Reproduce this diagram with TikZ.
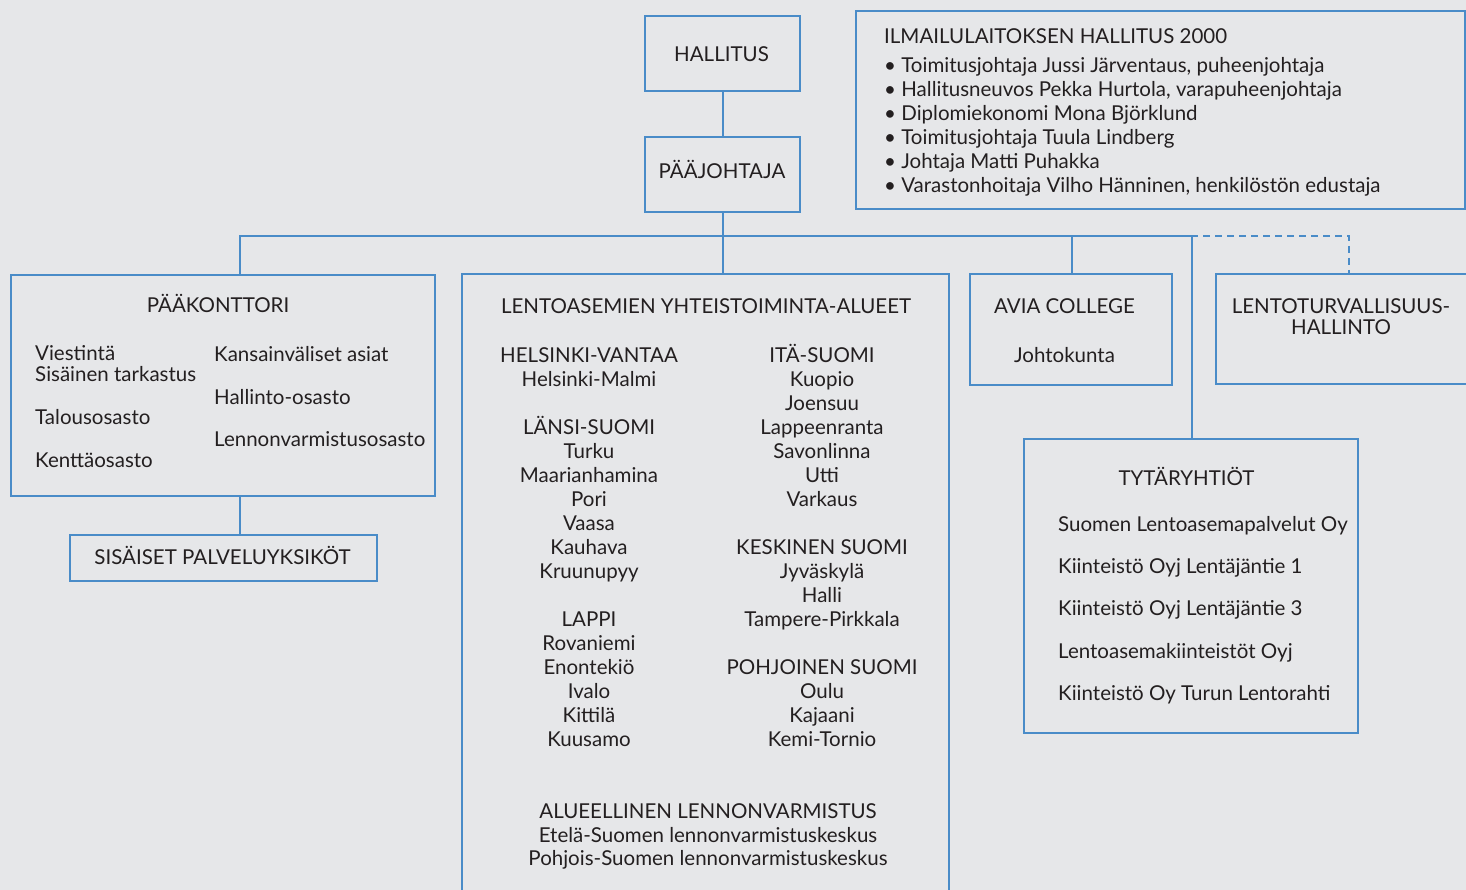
\documentclass[tikz,border=0pt]{standalone}
\usepackage{fontspec}
\setmainfont{Lato}
\definecolor{bg}{HTML}{E6E7E9}
\definecolor{frame}{HTML}{4A8CC8}
\definecolor{ink}{HTML}{231F20}
\newcommand\orgfont{\fontsize{20.5}{24}\selectfont}
\begin{document}
\begin{tikzpicture}[x=1pt,y=-1pt,
  every node/.style={text=ink, font=\orgfont},
  box/.style={draw=frame, line width=2.4pt, fill=bg, inner sep=0pt, anchor=north west},
  link/.style={draw=frame, line width=2.4pt},
  dlink/.style={link, dash pattern=on 7pt off 5pt},
  txt/.style={inner sep=0pt, anchor=base},
  ltxt/.style={inner sep=0pt, anchor=base west}]
\fill[bg] (0,0) rectangle (1466,890);
\useasboundingbox (0,0) rectangle (1466,890);
\clip (0,0) rectangle (1466,890);

% boxes
\node[box, minimum width=155pt, minimum height=75pt] (hallitus) at (644,15) {};
\node[box, minimum width=155pt, minimum height=75pt] (paajoh) at (644,136) {};
\node[box, minimum width=609pt, minimum height=198pt] (ilmailu) at (855,10) {};
\node[box, minimum width=424pt, minimum height=221pt] (paak) at (10,274) {};
\node[box, minimum width=307pt, minimum height=46pt] (sisais) at (69,534) {};
\node[box, minimum width=487pt, minimum height=660pt] (lento) at (461,273) {};
\node[box, minimum width=202pt, minimum height=111pt] (avia) at (969,273) {};
\node[box, minimum width=320pt, minimum height=110pt] (turva) at (1215,273) {};
\node[box, minimum width=334pt, minimum height=294pt] (tytar) at (1023,438) {};

% connectors
\coordinate (busL) at (240,236);
\coordinate (busR) at (1192,236);
\coordinate (aviaTap) at (1072,236);
\coordinate (dashS) at (1143,236);
\coordinate (dashC) at (1349,236);
\draw[link] (hallitus.south) -- (paajoh.north);
\draw[link] (paajoh.south) -- (paajoh.south |- lento.north);
\draw[link] (busL |- paak.north) -- (busL) -- (busR) -- (busR |- tytar.north);
\draw[link] (aviaTap) -- (aviaTap |- avia.north);
\draw[dlink] (dashS) -- (dashC) -- (dashC |- turva.north);
\draw[link] (busL |- paak.south) -- (busL |- sisais.north);

% texts
\node[txt] (thall) at (721.5,62) {HALLITUS};
\node[txt] (tpaaj) at (722,178.5) {PÄÄJOHTAJA};

\node[ltxt] (ilm0) at (884,44) {ILMAILULAITOKSEN HALLITUS 2000};
\node[ltxt] (ilm1) at (884,72.5) {\textbullet\ Toimitusjohtaja Jussi Järventaus, puheenjohtaja};
\node[ltxt] (ilm2) at (884,96.5) {\textbullet\ Hallitusneuvos Pekka Hurtola, varapuheenjohtaja};
\node[ltxt] (ilm3) at (884,120.5) {\textbullet\ Diplomiekonomi Mona Björklund};
\node[ltxt] (ilm4) at (884,144.5) {\textbullet\ Toimitusjohtaja Tuula Lindberg};
\node[ltxt] (ilm5) at (884,168.5) {\textbullet\ Johtaja Matti Puhakka};
\node[ltxt] (ilm6) at (884,192.5) {\textbullet\ Varastonhoitaja Vilho Hänninen, henkilöstön edustaja};

\node[txt] (tpaak) at (218,312.5) {PÄÄKONTTORI};
\node[ltxt] (pk1) at (35,360) {Viestintä};
\node[ltxt] (pk2) at (35,381) {Sisäinen tarkastus};
\node[ltxt] (pk3) at (35,424) {Talousosasto};
\node[ltxt] (pk4) at (35,467) {Kenttäosasto};
\node[ltxt] (pk5) at (214,361) {Kansainväliset asiat};
\node[ltxt] (pk6) at (214,404) {Hallinto-osasto};
\node[ltxt] (pk7) at (214,446) {Lennonvarmistusosasto};

\node[txt] (tsis) at (222.5,564) {SISÄISET PALVELUYKSIKÖT};

\node[txt] (tlento) at (706,313) {LENTOASEMIEN YHTEISTOIMINTA-ALUEET};
\foreach \t/\k in {HELSINKI-VANTAA/0, Helsinki-Malmi/1, LÄNSI-SUOMI/3, Turku/4,
  Maarianhamina/5, Pori/6, Vaasa/7, Kauhava/8, Kruunupyy/9, LAPPI/11,
  Rovaniemi/12, Enontekiö/13, Ivalo/14, Kittilä/15, Kuusamo/16}
  \node[txt] (la\k) at (589,{362.5+24*\k}) {\t};
\foreach \t/\k in {ITÄ-SUOMI/0, Kuopio/1, Joensuu/2, Lappeenranta/3, Savonlinna/4,
  Utti/5, Varkaus/6, KESKINEN SUOMI/8, Jyväskylä/9, Halli/10, Tampere-Pirkkala/11,
  POHJOINEN SUOMI/13, Oulu/14, Kajaani/15, Kemi-Tornio/16}
  \node[txt] (lb\k) at (822,{362.5+24*\k}) {\t};
\node[txt] (alu1) at (708,818.5) {ALUEELLINEN LENNONVARMISTUS};
\node[txt] (alu2) at (708,842) {Etelä-Suomen lennonvarmistuskeskus};
\node[txt] (alu3) at (708,865.5) {Pohjois-Suomen lennonvarmistuskeskus};

\node[txt] (tavia) at (1064.5,313.5) {AVIA COLLEGE};
\node[txt] (tjoht) at (1064.5,362) {Johtokunta};

\node[txt] (tturva1) at (1341,314) {LENTOTURVALLISUUS-};
\node[txt] (tturva2) at (1341,334.5) {HALLINTO};

\node[txt] (ttytar) at (1186.5,485) {TYTÄRYHTIÖT};
\node[ltxt] (ty1) at (1058,531) {Suomen Lentoasemapalvelut Oy};
\node[ltxt] (ty2) at (1058,573) {Kiinteistö Oyj Lentäjäntie 1};
\node[ltxt] (ty3) at (1058,615.5) {Kiinteistö Oyj Lentäjäntie 3};
\node[ltxt] (ty4) at (1058,658) {Lentoasemakiinteistöt Oyj};
\node[ltxt] (ty5) at (1058,700.5) {Kiinteistö Oy Turun Lentorahti};
\end{tikzpicture}
\end{document}
